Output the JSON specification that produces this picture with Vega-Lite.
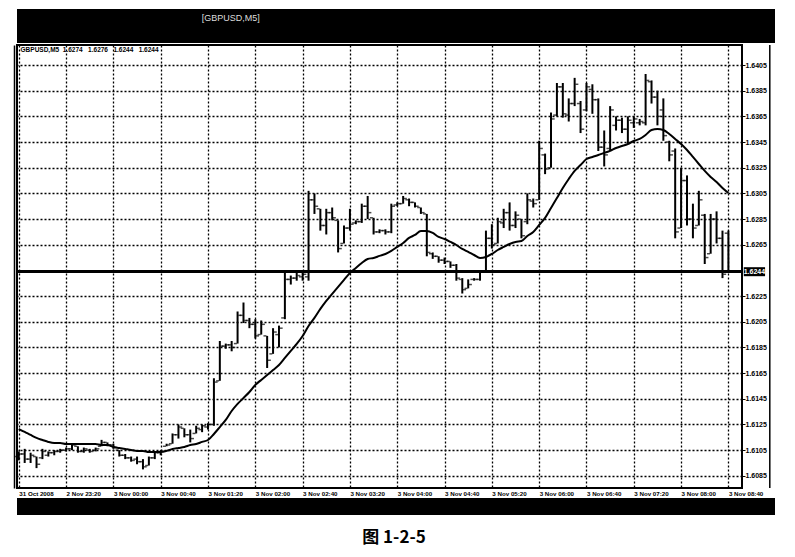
{
  "$schema": "https://vega.github.io/schema/vega-lite/v6.json",
  "background": "white",
  "padding": {"left": 13, "top": 9, "right": 5, "bottom": 5},
  "spacing": 0,
  "title": {"text": "图 1-2-5", "orient": "bottom", "anchor": "middle", "fontSize": 17, "fontWeight": "bold", "font": "Noto Sans CJK SC", "color": "black", "offset": 15},
  "config": {
    "view": {"stroke": null},
    "axis": {"labelFont": "Liberation Sans", "labelFontWeight": "bold", "labelColor": "black", "domainColor": "black", "tickColor": "black", "gridColor": "#000", "gridDash": [2, 2], "gridWidth": 1.3, "gridOpacity": 1}
  },
  "datasets": {
    "bars": [
      {"i":0,"o":1.6100,"h":1.6104,"l":1.6097,"c":1.6102,"ma":1.61215},
      {"i":1,"o":1.6102,"h":1.6106,"l":1.6095,"c":1.6098,"ma":1.61192},
      {"i":2,"o":1.6098,"h":1.6103,"l":1.6095,"c":1.6101,"ma":1.61168},
      {"i":3,"o":1.6100,"h":1.6100,"l":1.6091,"c":1.6094,"ma":1.61145},
      {"i":4,"o":1.6099,"h":1.6106,"l":1.6098,"c":1.6104,"ma":1.61129},
      {"i":5,"o":1.6101,"h":1.6104,"l":1.6100,"c":1.6103,"ma":1.61114},
      {"i":6,"o":1.6103,"h":1.6105,"l":1.6101,"c":1.6104,"ma":1.61106},
      {"i":7,"o":1.6104,"h":1.6106,"l":1.6103,"c":1.6105,"ma":1.61106},
      {"i":8,"o":1.6105,"h":1.6107,"l":1.6104,"c":1.6106,"ma":1.61098},
      {"i":9,"o":1.6106,"h":1.6110,"l":1.6105,"c":1.6109,"ma":1.61098},
      {"i":10,"o":1.6108,"h":1.6108,"l":1.6103,"c":1.6104,"ma":1.61098},
      {"i":11,"o":1.6104,"h":1.6107,"l":1.6103,"c":1.6106,"ma":1.61098},
      {"i":12,"o":1.6105,"h":1.6106,"l":1.6103,"c":1.6104,"ma":1.61098},
      {"i":13,"o":1.6105,"h":1.6107,"l":1.6104,"c":1.6106,"ma":1.61098},
      {"i":14,"o":1.6108,"h":1.6113,"l":1.6108,"c":1.6111,"ma":1.61090},
      {"i":15,"o":1.6111,"h":1.6111,"l":1.6108,"c":1.6109,"ma":1.61090},
      {"i":16,"o":1.6109,"h":1.6110,"l":1.6106,"c":1.6107,"ma":1.61075},
      {"i":17,"o":1.6105,"h":1.6105,"l":1.6100,"c":1.6101,"ma":1.61067},
      {"i":18,"o":1.6101,"h":1.6102,"l":1.6098,"c":1.6099,"ma":1.61059},
      {"i":19,"o":1.6099,"h":1.6100,"l":1.6096,"c":1.6097,"ma":1.61051},
      {"i":20,"o":1.6098,"h":1.6100,"l":1.6094,"c":1.6096,"ma":1.61044},
      {"i":21,"o":1.6096,"h":1.6098,"l":1.6090,"c":1.6092,"ma":1.61044},
      {"i":22,"o":1.6093,"h":1.6100,"l":1.6093,"c":1.6099,"ma":1.61036},
      {"i":23,"o":1.6099,"h":1.6104,"l":1.6098,"c":1.6103,"ma":1.61036},
      {"i":24,"o":1.6103,"h":1.6105,"l":1.6101,"c":1.6104,"ma":1.61036},
      {"i":25,"o":1.6108,"h":1.6110,"l":1.6108,"c":1.6109,"ma":1.61044},
      {"i":26,"o":1.6110,"h":1.6118,"l":1.6110,"c":1.6117,"ma":1.61059},
      {"i":27,"o":1.6117,"h":1.6125,"l":1.6114,"c":1.6123,"ma":1.61067},
      {"i":28,"o":1.6122,"h":1.6122,"l":1.6115,"c":1.6117,"ma":1.61075},
      {"i":29,"o":1.6117,"h":1.6121,"l":1.6111,"c":1.6114,"ma":1.61090},
      {"i":30,"o":1.6118,"h":1.6124,"l":1.6118,"c":1.6122,"ma":1.61098},
      {"i":31,"o":1.6121,"h":1.6125,"l":1.6119,"c":1.6124,"ma":1.61114},
      {"i":32,"o":1.6123,"h":1.6126,"l":1.6121,"c":1.6125,"ma":1.61129},
      {"i":33,"o":1.6125,"h":1.6161,"l":1.6124,"c":1.6158,"ma":1.61176},
      {"i":34,"o":1.6159,"h":1.6190,"l":1.6159,"c":1.6186,"ma":1.61230},
      {"i":35,"o":1.6186,"h":1.6188,"l":1.6184,"c":1.6187,"ma":1.61285},
      {"i":36,"o":1.6187,"h":1.6190,"l":1.6182,"c":1.6185,"ma":1.61355},
      {"i":37,"o":1.6188,"h":1.6213,"l":1.6188,"c":1.6210,"ma":1.61410},
      {"i":38,"o":1.6210,"h":1.6220,"l":1.6204,"c":1.6206,"ma":1.61456},
      {"i":39,"o":1.6206,"h":1.6208,"l":1.6200,"c":1.6203,"ma":1.61503},
      {"i":40,"o":1.6203,"h":1.6207,"l":1.6192,"c":1.6194,"ma":1.61558},
      {"i":41,"o":1.6195,"h":1.6206,"l":1.6195,"c":1.6203,"ma":1.61597},
      {"i":42,"o":1.6194,"h":1.6194,"l":1.6169,"c":1.6175,"ma":1.61635},
      {"i":43,"o":1.6180,"h":1.6200,"l":1.6180,"c":1.6197,"ma":1.61674},
      {"i":44,"o":1.6195,"h":1.6202,"l":1.6185,"c":1.6200,"ma":1.61713},
      {"i":45,"o":1.6208,"h":1.6243,"l":1.6207,"c":1.6238,"ma":1.61768},
      {"i":46,"o":1.6238,"h":1.6241,"l":1.6234,"c":1.6239,"ma":1.61823},
      {"i":47,"o":1.6239,"h":1.6243,"l":1.6237,"c":1.6241,"ma":1.61877},
      {"i":48,"o":1.6240,"h":1.6245,"l":1.6237,"c":1.6242,"ma":1.61939},
      {"i":49,"o":1.6240,"h":1.6307,"l":1.6237,"c":1.6300,"ma":1.62017},
      {"i":50,"o":1.6300,"h":1.6305,"l":1.6289,"c":1.6295,"ma":1.62080},
      {"i":51,"o":1.6293,"h":1.6293,"l":1.6276,"c":1.6280,"ma":1.62150},
      {"i":52,"o":1.6280,"h":1.6293,"l":1.6273,"c":1.6290,"ma":1.62212},
      {"i":53,"o":1.6290,"h":1.6294,"l":1.6284,"c":1.6286,"ma":1.62267},
      {"i":54,"o":1.6284,"h":1.6284,"l":1.6259,"c":1.6262,"ma":1.62321},
      {"i":55,"o":1.6266,"h":1.6280,"l":1.6266,"c":1.6278,"ma":1.62376},
      {"i":56,"o":1.6278,"h":1.6293,"l":1.6276,"c":1.6281,"ma":1.62430},
      {"i":57,"o":1.6282,"h":1.6284,"l":1.6281,"c":1.6283,"ma":1.62469},
      {"i":58,"o":1.6283,"h":1.6297,"l":1.6282,"c":1.6295,"ma":1.62508},
      {"i":59,"o":1.6295,"h":1.6303,"l":1.6285,"c":1.6290,"ma":1.62539},
      {"i":60,"o":1.6286,"h":1.6286,"l":1.6273,"c":1.6275,"ma":1.62547},
      {"i":61,"o":1.6275,"h":1.6277,"l":1.6274,"c":1.6276,"ma":1.62563},
      {"i":62,"o":1.6276,"h":1.6277,"l":1.6273,"c":1.6275,"ma":1.62578},
      {"i":63,"o":1.6275,"h":1.6297,"l":1.6274,"c":1.6295,"ma":1.62602},
      {"i":64,"o":1.6296,"h":1.6298,"l":1.6295,"c":1.6297,"ma":1.62633},
      {"i":65,"o":1.6297,"h":1.6303,"l":1.6297,"c":1.6301,"ma":1.62664},
      {"i":66,"o":1.6300,"h":1.6301,"l":1.6295,"c":1.6298,"ma":1.62703},
      {"i":67,"o":1.6298,"h":1.6298,"l":1.6294,"c":1.6295,"ma":1.62726},
      {"i":68,"o":1.6294,"h":1.6294,"l":1.6289,"c":1.6290,"ma":1.62757},
      {"i":69,"o":1.6289,"h":1.6289,"l":1.6256,"c":1.6259,"ma":1.62757},
      {"i":70,"o":1.6258,"h":1.6259,"l":1.6254,"c":1.6256,"ma":1.62742},
      {"i":71,"o":1.6256,"h":1.6256,"l":1.6251,"c":1.6253,"ma":1.62711},
      {"i":72,"o":1.6253,"h":1.6255,"l":1.6250,"c":1.6252,"ma":1.62695},
      {"i":73,"o":1.6252,"h":1.6252,"l":1.6247,"c":1.6249,"ma":1.62672},
      {"i":74,"o":1.6249,"h":1.6250,"l":1.6237,"c":1.6239,"ma":1.62648},
      {"i":75,"o":1.6238,"h":1.6239,"l":1.6227,"c":1.6230,"ma":1.62617},
      {"i":76,"o":1.6231,"h":1.6238,"l":1.6231,"c":1.6234,"ma":1.62594},
      {"i":77,"o":1.6238,"h":1.6239,"l":1.6237,"c":1.6238,"ma":1.62570},
      {"i":78,"o":1.6238,"h":1.6245,"l":1.6237,"c":1.6244,"ma":1.62547},
      {"i":79,"o":1.6244,"h":1.6276,"l":1.6243,"c":1.6270,"ma":1.62555},
      {"i":80,"o":1.6270,"h":1.6281,"l":1.6262,"c":1.6265,"ma":1.62578},
      {"i":81,"o":1.6266,"h":1.6286,"l":1.6266,"c":1.6283,"ma":1.62609},
      {"i":82,"o":1.6282,"h":1.6293,"l":1.6278,"c":1.6290,"ma":1.62633},
      {"i":83,"o":1.6290,"h":1.6298,"l":1.6276,"c":1.6280,"ma":1.62656},
      {"i":84,"o":1.6280,"h":1.6291,"l":1.6278,"c":1.6288,"ma":1.62672},
      {"i":85,"o":1.6285,"h":1.6285,"l":1.6270,"c":1.6272,"ma":1.62679},
      {"i":86,"o":1.6283,"h":1.6305,"l":1.6281,"c":1.6300,"ma":1.62718},
      {"i":87,"o":1.6299,"h":1.6301,"l":1.6294,"c":1.6297,"ma":1.62750},
      {"i":88,"o":1.6300,"h":1.6346,"l":1.6300,"c":1.6340,"ma":1.62804},
      {"i":89,"o":1.6335,"h":1.6336,"l":1.6320,"c":1.6324,"ma":1.62859},
      {"i":90,"o":1.6325,"h":1.6368,"l":1.6325,"c":1.6363,"ma":1.62936},
      {"i":91,"o":1.6366,"h":1.6391,"l":1.6365,"c":1.6388,"ma":1.63014},
      {"i":92,"o":1.6388,"h":1.6391,"l":1.6364,"c":1.6367,"ma":1.63092},
      {"i":93,"o":1.6366,"h":1.6379,"l":1.6361,"c":1.6375,"ma":1.63162},
      {"i":94,"o":1.6375,"h":1.6395,"l":1.6373,"c":1.6390,"ma":1.63225},
      {"i":95,"o":1.6375,"h":1.6377,"l":1.6352,"c":1.6355,"ma":1.63271},
      {"i":96,"o":1.6370,"h":1.6391,"l":1.6369,"c":1.6388,"ma":1.63318},
      {"i":97,"o":1.6386,"h":1.6390,"l":1.6367,"c":1.6378,"ma":1.63334},
      {"i":98,"o":1.6378,"h":1.6379,"l":1.6338,"c":1.6341,"ma":1.63349},
      {"i":99,"o":1.6341,"h":1.6354,"l":1.6326,"c":1.6335,"ma":1.63365},
      {"i":100,"o":1.6340,"h":1.6373,"l":1.6338,"c":1.6370,"ma":1.63381},
      {"i":101,"o":1.6358,"h":1.6365,"l":1.6354,"c":1.6362,"ma":1.63404},
      {"i":102,"o":1.6362,"h":1.6364,"l":1.6352,"c":1.6355,"ma":1.63419},
      {"i":103,"o":1.6355,"h":1.6365,"l":1.6344,"c":1.6362,"ma":1.63435},
      {"i":104,"o":1.6360,"h":1.6365,"l":1.6356,"c":1.6363,"ma":1.63458},
      {"i":105,"o":1.6360,"h":1.6363,"l":1.6358,"c":1.6361,"ma":1.63474},
      {"i":106,"o":1.6360,"h":1.6398,"l":1.6358,"c":1.6393,"ma":1.63505},
      {"i":107,"o":1.6392,"h":1.6393,"l":1.6375,"c":1.6380,"ma":1.63544},
      {"i":108,"o":1.6380,"h":1.6385,"l":1.6358,"c":1.6365,"ma":1.63552},
      {"i":109,"o":1.6370,"h":1.6379,"l":1.6346,"c":1.6350,"ma":1.63544},
      {"i":110,"o":1.6345,"h":1.6346,"l":1.6330,"c":1.6335,"ma":1.63513},
      {"i":111,"o":1.6338,"h":1.6340,"l":1.6270,"c":1.6275,"ma":1.63474},
      {"i":112,"o":1.6278,"h":1.6325,"l":1.6278,"c":1.6315,"ma":1.63435},
      {"i":113,"o":1.6315,"h":1.6319,"l":1.6280,"c":1.6285,"ma":1.63388},
      {"i":114,"o":1.6285,"h":1.6297,"l":1.6270,"c":1.6278,"ma":1.63334},
      {"i":115,"o":1.6280,"h":1.6307,"l":1.6280,"c":1.6300,"ma":1.63279},
      {"i":116,"o":1.6288,"h":1.6289,"l":1.6250,"c":1.6255,"ma":1.63225},
      {"i":117,"o":1.6258,"h":1.6289,"l":1.6258,"c":1.6285,"ma":1.63178},
      {"i":118,"o":1.6285,"h":1.6291,"l":1.6266,"c":1.6270,"ma":1.63139},
      {"i":119,"o":1.6270,"h":1.6276,"l":1.6239,"c":1.6242,"ma":1.63092},
      {"i":120,"o":1.6274,"h":1.6276,"l":1.6244,"c":1.6244,"ma":1.63053}
    ]
  },
  "vconcat": [
    {
      "width": 758,
      "height": 34,
      "view": {"fill": "black", "stroke": null},
      "data": {"values": [{"t": "[GBPUSD,M5]"}]},
      "mark": {"type": "text", "color": "#dddddd", "fontSize": 9, "font": "Liberation Sans", "align": "center", "baseline": "middle"},
      "encoding": {
        "x": {"datum": 0.282, "type": "quantitative", "scale": {"domain": [0, 1]}, "axis": null},
        "y": {"datum": 0.735, "type": "quantitative", "scale": {"domain": [0, 1]}, "axis": null},
        "text": {"field": "t"}
      }
    },
    {
      "width": 725,
      "height": 443,
      "view": {"fill": "white", "stroke": "black", "strokeWidth": 2},
      "data": {"name": "bars"},
      "resolve": {"axis": {"y": "independent"}},
      "layer": [
        {
          "mark": {"type": "rule", "color": "black", "strokeWidth": 2},
          "encoding": {
            "x": {"field": "i", "type": "quantitative", "title": null,
              "scale": {"domain": [-0.3, 122.3], "nice": false, "zero": false},
              "axis": {"orient": "bottom", "values": [0,4,8,12,16,20,24,28,32,36,40,44,48,52,56,60,64,68,72,76,80,84,88,92,96,100,104,108,112,116,120],
                "grid": true, "ticks": false, "domain": false, "labelAlign": "left", "labelBaseline": "top", "labelPadding": 2, "labelFontSize": 6.2,
                "labelOverlap": false, "labelFlush": false, "labelBound": false, "title": null,
                "labelExpr": "datum.value % 8 == 0 ? ['31 Oct 2008','2 Nov 23:20','3 Nov 00:00','3 Nov 00:40','3 Nov 01:20','3 Nov 02:00','3 Nov 02:40','3 Nov 03:20','3 Nov 04:00','3 Nov 04:40','3 Nov 05:20','3 Nov 06:00','3 Nov 06:40','3 Nov 07:20','3 Nov 08:00','3 Nov 08:40'][datum.value / 8] : ''"}},
            "y": {"field": "l", "type": "quantitative", "title": null,
              "scale": {"domain": [1.60755, 1.64206], "nice": false, "zero": false},
              "axis": {"orient": "right", "values": [1.6085,1.6105,1.6125,1.6145,1.6165,1.6185,1.6205,1.6225,1.6265,1.6285,1.6305,1.6325,1.6345,1.6365,1.6385,1.6405],
                "grid": true, "ticks": true, "tickSize": 3, "domain": false, "labelPadding": 0, "labelFontSize": 7, "format": ".4f", "labelAlign": "left", "title": null}},
            "y2": {"field": "h"}
          }
        },
        {
          "mark": {"type": "line", "color": "black", "strokeWidth": 2, "interpolate": "monotone"},
          "encoding": {
            "x": {"field": "i", "type": "quantitative", "title": null},
            "y": {"field": "ma", "type": "quantitative", "title": null,
              "axis": {"orient": "left", "offset": 3, "labels": false, "ticks": false, "grid": false, "domain": true, "domainWidth": 1.5, "title": null}}
          }
        },
        {
          "mark": {"type": "tick", "orient": "horizontal", "color": "black", "size": 3, "thickness": 1.5, "xOffset": -2.2},
          "encoding": {
            "x": {"field": "i", "type": "quantitative", "title": null},
            "y": {"field": "o", "type": "quantitative", "title": null, "axis": null}
          }
        },
        {
          "mark": {"type": "tick", "orient": "horizontal", "color": "black", "size": 3, "thickness": 1.5, "xOffset": 2.2},
          "encoding": {
            "x": {"field": "i", "type": "quantitative", "title": null},
            "y": {"field": "c", "type": "quantitative", "title": null, "axis": null}
          }
        },
        {
          "mark": {"type": "rule", "color": "black", "strokeWidth": 2.2},
          "encoding": {
            "y": {"datum": 1.6244, "type": "quantitative", "axis": null}
          }
        },
        {
          "data": {"values": [{"t": "window"}]},
          "mark": {"type": "rule", "color": "black", "strokeWidth": 1.5},
          "encoding": {
            "x": {"datum": 127.0, "type": "quantitative"}
          }
        },
        {
          "data": {"values": [{"t": "GBPUSD,M5\u00a0 1.6274\u00a0\u00a0 1.6276\u00a0\u00a0 1.6244\u00a0\u00a0 1.6244"}]},
          "mark": {"type": "text", "color": "black", "fontSize": 6.5, "fontWeight": "bold", "font": "Liberation Sans", "align": "left", "baseline": "middle"},
          "encoding": {
            "x": {"datum": 0.3, "type": "quantitative"},
            "y": {"datum": 1.6417, "type": "quantitative", "axis": null},
            "text": {"field": "t"}
          }
        },
        {
          "data": {"values": [{"t": "1.6244"}]},
          "mark": {"type": "rule", "color": "black", "strokeWidth": 9},
          "encoding": {
            "x": {"datum": 122.6, "type": "quantitative"},
            "x2": {"datum": 126.2},
            "y": {"datum": 1.6244, "type": "quantitative", "axis": null}
          }
        },
        {
          "data": {"values": [{"t": "1.6244"}]},
          "mark": {"type": "text", "color": "white", "fontSize": 7, "fontWeight": "bold", "font": "Liberation Sans", "align": "center", "baseline": "middle"},
          "encoding": {
            "x": {"datum": 124.4, "type": "quantitative"},
            "y": {"datum": 1.6244, "type": "quantitative", "axis": null},
            "text": {"field": "t"}
          }
        }
      ]
    },
    {
      "width": 758,
      "height": 17,
      "view": {"fill": "black", "stroke": null},
      "data": {"values": [{"t": ""}]},
      "mark": {"type": "text"},
      "encoding": {"text": {"field": "t"}}
    }
  ]
}
